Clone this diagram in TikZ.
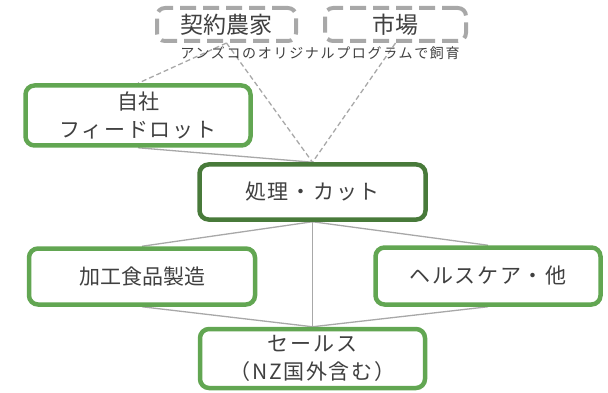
\documentclass[tikz,border=0pt]{standalone}
\usepackage{fontspec}
\setmainfont{Noto Sans CJK JP}
\usetikzlibrary{backgrounds}
\definecolor{boxgreen}{RGB}{98,166,82}
\definecolor{darkgreen}{RGB}{72,122,58}
\definecolor{linegray}{RGB}{168,168,168}
\definecolor{txtgray}{RGB}{64,64,64}

\begin{document}
\begin{tikzpicture}[x=1pt,y=-1pt,
  greenbox/.style={draw=boxgreen,line width=4.5pt,rounded corners=9pt,fill=white,text=txtgray,align=center,inner sep=0pt,
    font=\fontsize{21}{28}\selectfont},
  spaced/.style={font=\fontsize{21}{28}\selectfont\addfontfeature{LetterSpace=8}},
  sourcebox/.style={draw=linegray,line width=4pt,rounded corners=8pt,dash pattern=on 16pt off 7pt,fill=white,text=txtgray,inner sep=0pt,
    font=\fontsize{23}{26}\selectfont},
  link/.style={draw=linegray,line width=1.3pt},
  dashlink/.style={link,dash pattern=on 5pt off 3pt}]
\useasboundingbox (0,0) rectangle (608,393);
% sources
\node[sourcebox,minimum width=139pt,minimum height=33pt] (farm) at (226.5,24.5) {契約農家};
\node[sourcebox,minimum width=141pt,minimum height=33pt] (market) at (395.5,24.5) {市場};
\node[text=txtgray,font=\fontsize{14}{16}\selectfont\addfontfeature{LetterSpace=12}] (note) at (320,53) {アンズコのオリジナルプログラムで飼育};
% stages
\node[greenbox,minimum width=225pt,minimum height=60pt] (feedlot) at (138,115.5) {自社\\ \addfontfeature{LetterSpace=8}フィードロット};
\node[greenbox,spaced,draw=darkgreen,minimum width=226pt,minimum height=55pt] (process) at (312.5,192) {処理・カット};
\node[greenbox,minimum width=226pt,minimum height=56pt] (food) at (142,276.5) {加工食品製造};
\node[greenbox,spaced,minimum width=225pt,minimum height=57pt] (health) at (488,276) {ヘルスケア・他};
\node[greenbox,spaced,minimum width=225pt,minimum height=59pt] (sales) at (312.5,358.5) {セールス\\ （NZ国外含む）};
% connectors
\begin{scope}[on background layer]
\draw[dashlink] (farm.south) -- (feedlot.north);
\draw[dashlink] (farm.south) -- (process.north);
\draw[dashlink] (market.south) -- (process.north);
\draw[link] (feedlot.south) -- (process.north);
\foreach \t in {food,health,sales} \draw[link] (process.south) -- (\t.north);
\foreach \s in {food,health} \draw[link] (\s.south) -- (sales.north);
\end{scope}
\end{tikzpicture}
\end{document}
